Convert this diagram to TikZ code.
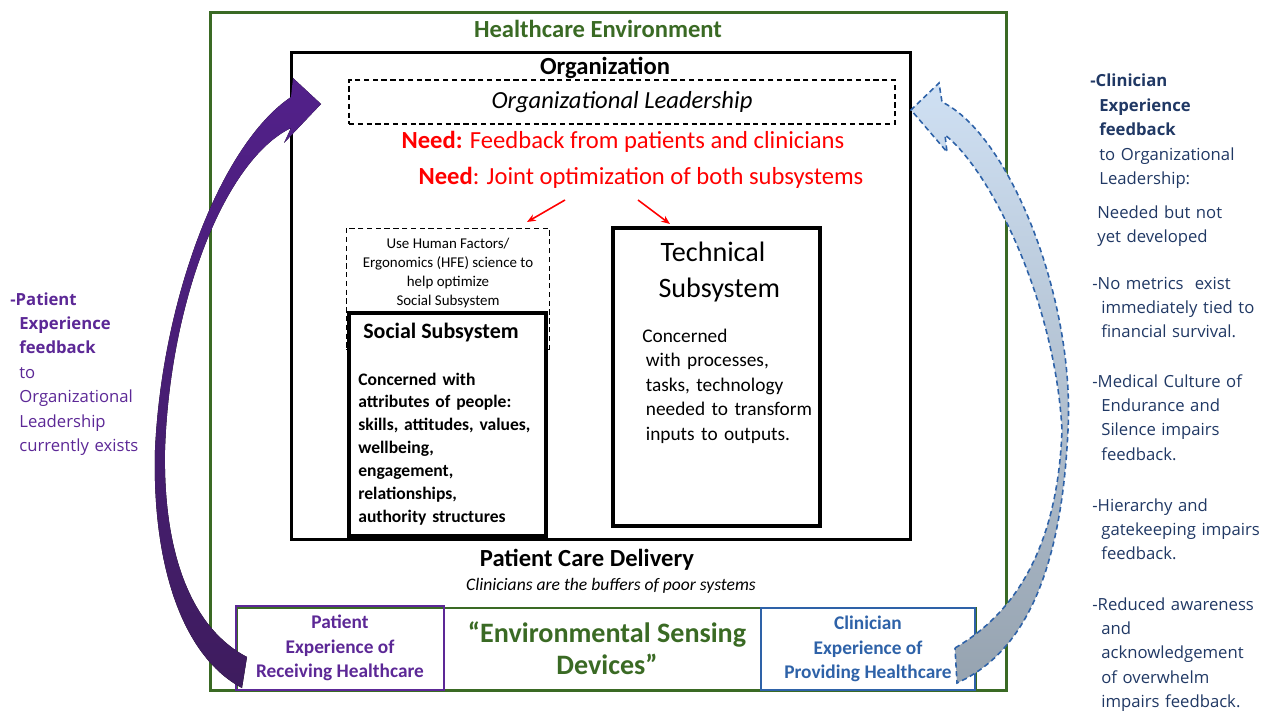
\documentclass[tikz,border=0pt]{standalone}
\usepackage{fontspec}
\setmainfont{Carlito}
\newfontfamily\sidefont{Open Sans}
\usetikzlibrary{arrows.meta, shapes}
\definecolor{envgreen}{RGB}{58,106,36}
\definecolor{patpurple}{RGB}{92,40,150}
\definecolor{arrtop}{RGB}{82,32,138}
\definecolor{arrbot}{RGB}{62,28,94}
\definecolor{clinblue}{RGB}{46,98,168}
\definecolor{sidenavy}{RGB}{32,56,100}
\definecolor{lightarr}{RGB}{207,224,243}
\definecolor{grayarr}{RGB}{150,163,176}
\newcommand{\fs}[2]{\fontsize{#1}{#2}\selectfont}
\newcommand{\ind}{\hspace*{0.18cm}}

\begin{document}
\begin{tikzpicture}[x=0.02cm, y=-0.02cm,
	frame/.style={draw, inner sep=0pt, outer sep=0pt},
	thickframe/.style={frame, line width=2.2pt},
	needarr/.style={red, line width=0.9pt, -{Stealth[length=5pt, width=4pt]}},
	sidetext/.style={anchor=base west, inner sep=0pt, align=left}]
	\useasboundingbox (0,0) rectangle (1269,713);

	% outer environment
	\node[frame, draw=envgreen, line width=1.7pt, minimum width=15.94cm, minimum height=13.58cm] (env) at (608.5,351.5) {};
	\node[text=envgreen, font=\fs{14}{17}\bfseries] (envT) at (598,29) {Healthcare Environment};

	% organization
	\node[frame, line width=1.7pt, minimum width=12.4cm, minimum height=9.76cm] (org) at (601,296) {};
	\node[font=\fs{14}{17}\bfseries] (orgT) at (605,68) {Organization};
	\node[frame, line width=0.9pt, dash pattern=on 3pt off 2pt, minimum width=10.92cm, minimum height=0.88cm, font=\fs{14}{16}\itshape] (lead) at (622,102) {Organizational Leadership};
	\node[text=red, font=\fs{14}{16}] (need1) at (623,142) {\textbf{Need:} Feedback from patients and clinicians};
	\node[text=red, font=\fs{14}{16}] (need2) at (641,178) {\textbf{Need}: Joint optimization of both subsystems};

	% subsystems
	\node[frame, line width=0.5pt, densely dashed, minimum width=4.06cm, minimum height=2.42cm] (hfe) at (447.5,288.5) {};
	\node[align=center, font=\fs{8.5}{10.8}] (hfeT) at (448,273) {Use Human Factors/\\Ergonomics (HFE) science to\\help optimize\\Social Subsystem};
	\node[thickframe, fill=white, minimum width=3.94cm, minimum height=4.46cm] (social) at (447.5,424.5) {};
	\node[font=\fs{12.5}{15}\bfseries] (socialT) at (441,333) {Social Subsystem};
	\node[sidetext, text width=3.8cm, font=\fs{10}{13}\bfseries] (socialB) at (358,385) {Concerned with\\attributes of people:\\skills, attitudes, values,\\wellbeing,\\engagement,\\relationships,\\authority structures};

	\node[thickframe, minimum width=4.14cm, minimum height=5.96cm] (tech) at (716.5,377) {};
	\node[align=center, font=\fs{16}{21}] (techT) at (713,272) {Technical\\\hspace*{0.25cm}Subsystem};
	\node[sidetext, text width=3.8cm, font=\fs{11}{14}] (techB) at (642,342) {Concerned\\\hspace*{2pt}with processes,\\\hspace*{2pt}tasks, technology\\\hspace*{2pt}needed to transform\\\hspace*{2pt}inputs to outputs.};

	\coordinate (r1s) at (565,200);
	\coordinate (r1e) at (527,222);
	\coordinate (r2s) at (638,200);
	\coordinate (r2e) at (670,224);
	\draw[needarr] (r1s) -- (r1e);
	\draw[needarr] (r2s) -- (r2e);

	% care delivery
	\node[font=\fs{14}{17}\bfseries] (care) at (587,560) {Patient Care Delivery};
	\node[font=\fs{10}{12}\itshape] (buffer) at (611,586) {Clinicians are the buffers of poor systems};

	\node[frame, draw=envgreen, line width=1.2pt, minimum width=14.78cm, minimum height=1.64cm] (band) at (606.5,649) {};
	\node[frame, draw=patpurple, line width=1.1pt, minimum width=4.16cm, minimum height=1.68cm, align=center, text=patpurple, font=\fs{11}{14}\bfseries] (pbox) at (340,648) {Patient\\Experience of\\Receiving Healthcare};
	\node[frame, draw=clinblue, line width=1.1pt, minimum width=4.28cm, minimum height=1.64cm, align=center, text=clinblue, font=\fs{11}{14}\bfseries] (cbox) at (868,649) {Clinician\\Experience of\\Providing Healthcare};
	\node[align=center, text=envgreen, font=\fs{16}{18.2}\bfseries] (sense) at (607,648) {``Environmental Sensing\\Devices''};

	% feedback arrows
	\fill[top color=arrtop, bottom color=arrbot]
		(242,688) .. controls (180,655) and (152,560) .. (155,450)
		.. controls (162,300) and (220,145) .. (291,97)
		-- (293,78) -- (321,104) -- (284,143) -- (291,128)
		.. controls (225,160) and (170,300) .. (165,450)
		.. controls (163,560) and (195,630) .. (247,657) -- cycle;
	\path[top color=lightarr, bottom color=grayarr, draw=clinblue, line width=0.9pt, dash pattern=on 3pt off 2pt]
		(955,648) .. controls (1020,610) and (1058,540) .. (1062,430)
		.. controls (1055,300) and (990,170) .. (945,135)
		-- (947,152) -- (911,110) -- (939,83) -- (942,102)
		.. controls (1010,135) and (1075,300) .. (1068,430)
		.. controls (1062,560) and (1030,650) .. (957,683) -- cycle;

	% side notes
	\node[sidetext, text width=3cm, text=patpurple, font=\sidefont\fs{9.5}{13.9}] (patNote) at (10,305)
		{\textbf{-Patient}\\\ind\textbf{Experience}\\\ind\textbf{feedback}\\\ind to\\\ind Organizational\\\ind Leadership\\\ind currently exists};
	\node[sidetext, text width=3.6cm, text=sidenavy, font=\sidefont\fs{9.5}{13.9}] (clinNote) at (1090,87)
		{\textbf{-Clinician}\\\ind\textbf{Experience}\\\ind\textbf{feedback}\\\ind to Organizational\\\ind Leadership:};
	\node[sidetext, text width=3.6cm, text=sidenavy, font=\sidefont\fs{9.5}{13.9}] (needNote) at (1097,218)
		{Needed but not\\yet developed};
	\node[sidetext, text width=3.6cm, text=sidenavy, font=\sidefont\fs{9.5}{13.9}] (metricNote) at (1092,289)
		{-No metrics\ \ exist\\\ind immediately tied to\\\ind financial survival.};
	\node[sidetext, text width=3.6cm, text=sidenavy, font=\sidefont\fs{9.5}{13.9}] (cultNote) at (1092,387)
		{-Medical Culture of\\\ind Endurance and\\\ind Silence impairs\\\ind feedback.};
	\node[sidetext, text width=3.6cm, text=sidenavy, font=\sidefont\fs{9.5}{13.9}] (hierNote) at (1092,511)
		{-Hierarchy and\\\ind gatekeeping impairs\\\ind feedback.};
	\node[sidetext, text width=3.6cm, text=sidenavy, font=\sidefont\fs{9.5}{13.9}] (awareNote) at (1092,610)
		{-Reduced awareness\\\ind and\\\ind acknowledgement\\\ind of overwhelm\\\ind impairs feedback.};
\end{tikzpicture}
\end{document}
